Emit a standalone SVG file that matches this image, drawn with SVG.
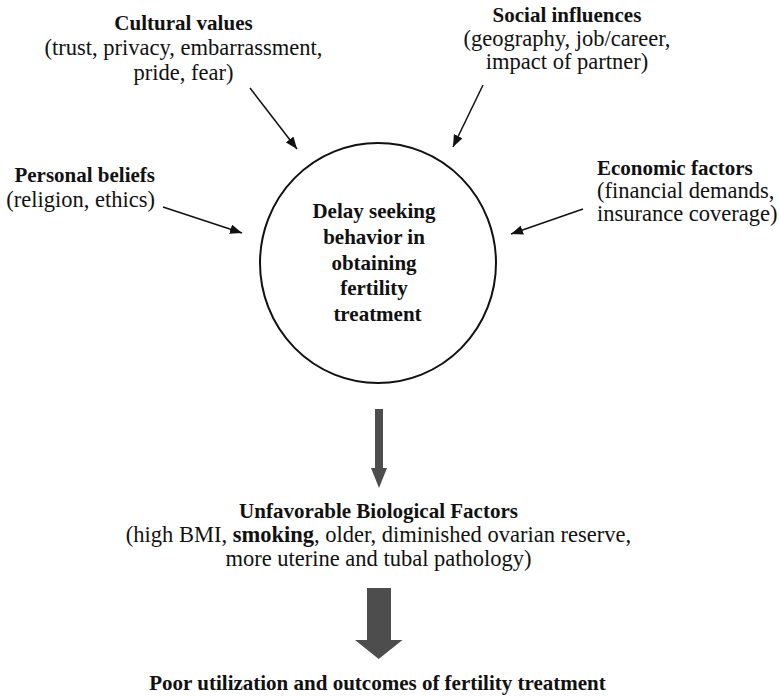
<svg xmlns="http://www.w3.org/2000/svg" width="779" height="698" viewBox="0 0 779 698">
<style>
text{font-family:"Liberation Serif","Times New Roman",serif;fill:#111}
.b{font-weight:bold;font-size:21px}
.r{font-size:22.5px}
.m{text-anchor:middle}
.e{text-anchor:end}
.thin{stroke:#111;stroke-width:1.5;fill:none}
.big{fill:#4d4d4d}
</style>
<defs>
<marker id="ah" viewBox="0 0 10 8" refX="10" refY="4" markerWidth="8" markerHeight="6.4" orient="auto" markerUnits="strokeWidth">
<path d="M0,0 L10,4 L0,8 z" fill="#111"/>
</marker>
</defs>
<rect width="779" height="698" fill="#fff"/>
<g id="cultural">
<text class="b m" x="183.5" y="30">Cultural values</text>
<text class="r m" x="183.5" y="55">(trust, privacy, embarrassment,</text>
<text class="r m" x="183.5" y="80">pride, fear)</text>
</g>
<g id="social">
<text class="b m" x="567" y="22">Social influences</text>
<text class="r m" x="567" y="45.5">(geography, job/career,</text>
<text class="r m" x="567" y="69">impact of partner)</text>
</g>
<g id="personal">
<text class="b e" x="155" y="182">Personal beliefs</text>
<text class="r e" x="155" y="207">(religion, ethics)</text>
</g>
<g id="economic">
<text class="b" x="597" y="175">Economic factors</text>
<text class="r" x="597" y="198">(financial demands,</text>
<text class="r" x="597" y="221">insurance coverage)</text>
</g>
<g id="center">
<ellipse cx="378" cy="263" rx="118" ry="120" fill="none" stroke="#111" stroke-width="2"/>
<text class="b m" x="374" y="218">Delay seeking</text>
<text class="b m" x="374" y="244">behavior in</text>
<text class="b m" x="374" y="269.5">obtaining</text>
<text class="b m" x="374" y="295">fertility</text>
<text class="b m" x="377.5" y="321">treatment</text>
</g>
<g id="biological">
<text class="b m" x="378.5" y="518">Unfavorable Biological Factors</text>
<text class="r m" x="378.5" y="542">(high BMI, <tspan font-weight="bold">smoking</tspan>, older, diminished ovarian reserve,</text>
<text class="r m" x="378.5" y="565.5">more uterine and tubal pathology)</text>
</g>
<g id="outcome">
<text class="b m" x="377.5" y="690">Poor utilization and outcomes of fertility treatment</text>
</g>
<g id="connectors">
<line class="thin" x1="250" y1="88" x2="297" y2="149" marker-end="url(#ah)"/>
<line class="thin" x1="483" y1="85" x2="453" y2="147" marker-end="url(#ah)"/>
<line class="thin" x1="163" y1="207" x2="242" y2="233" marker-end="url(#ah)"/>
<line class="thin" x1="583" y1="209" x2="511" y2="234" marker-end="url(#ah)"/>
<path class="big" d="M375,409 H383 V468 H387 L379,488 L371,468 H375 Z"/>
<path class="big" d="M367,588 H391 V640 H402.5 L378.7,659 L355,640 H367 Z"/>
</g>
</svg>
